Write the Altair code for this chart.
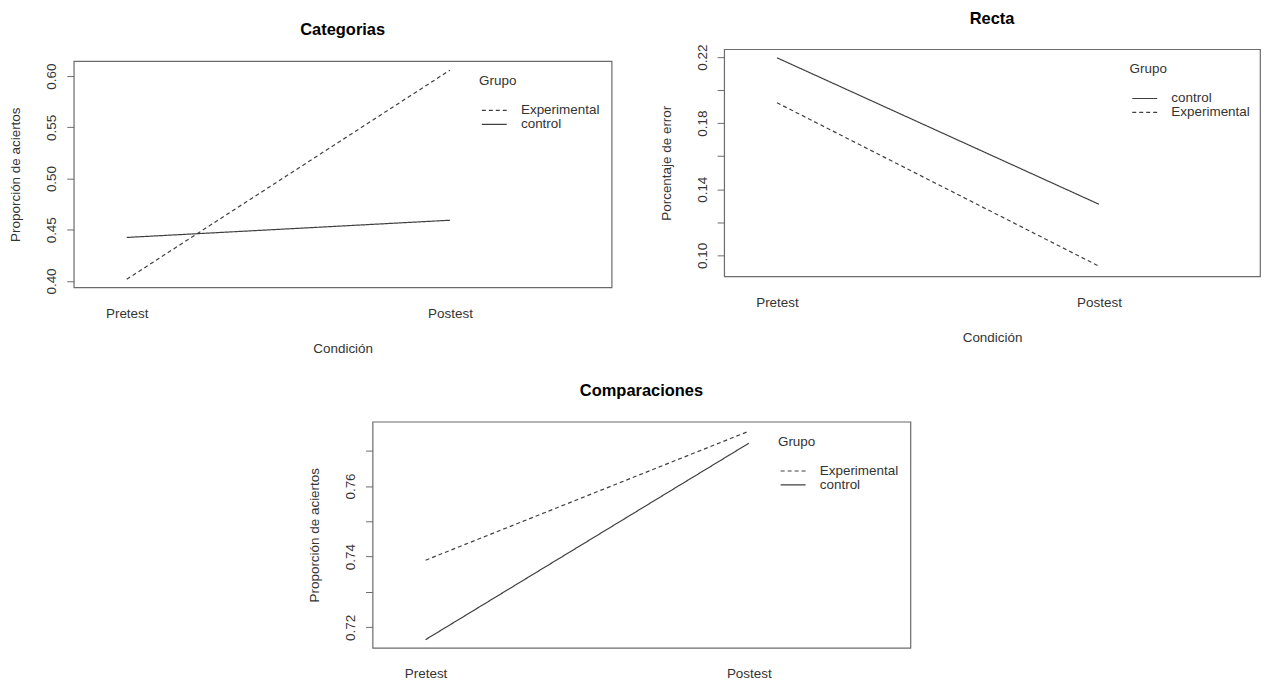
import altair as alt
import pandas as pd

# ---------------- data ----------------
condiciones = ["Pretest", "Postest"]

cat_experimental = [0.4017, 0.6058]
cat_control = [0.4425, 0.4593]

rec_control = [0.2196, 0.1309]
rec_experimental = [0.1924, 0.0934]

com_experimental = [0.7390, 0.7755]
com_control = [0.7165, 0.7721]

cat_yticks = [0.40, 0.45, 0.50, 0.55, 0.60]
cat_ylabels = ["0.40", "0.45", "0.50", "0.55", "0.60"]
rec_yticks = [0.10, 0.12, 0.14, 0.16, 0.18, 0.20, 0.22]
rec_ylabels = ["0.10", "0.14", "0.18", "0.22"]
com_yticks = [0.72, 0.73, 0.74, 0.75, 0.76, 0.77]
com_ylabels = ["0.72", "0.74", "0.76"]

FONT = "Liberation Sans"
TXT = "#333333"
LINE = "#404040"
BOX = "#6b6b6b"
FS = 13.5


def frame(series):
    rows = []
    for grupo, vals in series:
        for c, v in zip(condiciones, vals):
            rows.append({"cond": c, "Grupo": grupo, "valor": v})
    return pd.DataFrame(rows)


def panel(df, title, ytitle, ydomain, yticks, ylabels, order, width, height,
          title_offset, xtitle=True):
    cond_list = "[" + ",".join("'%s'" % c for c in condiciones) + "]"
    lab_list = "[" + ",".join("'%s'" % l for l in ylabels) + "]"
    xaxis_kwargs = dict(
        values=[1, 2],
        labelExpr="datum.value == 1 ? '%s' : '%s'" % (condiciones[0], condiciones[1]),
        ticks=False, domain=False, grid=False,
        labelPadding=19, labelFontSize=FS, labelFont=FONT, labelColor=TXT,
        titleFontSize=FS, titleFont=FONT, titleColor=TXT, titleFontWeight="normal",
        titlePadding=22,
    )
    if xtitle:
        xaxis_kwargs["title"] = "Condición"
    else:
        xaxis_kwargs["title"] = None
    dash_range = [[4, 3] if g == "Experimental" else [1, 0] for g in order]
    return (
        alt.Chart(df)
        .transform_calculate(xpos="indexof(%s, datum.cond) + 1" % cond_list)
        .mark_line(color=LINE, strokeWidth=1.2)
        .encode(
            x=alt.X("xpos:Q",
                    scale=alt.Scale(domain=[0.836, 2.5], nice=False, zero=False),
                    axis=alt.Axis(**xaxis_kwargs)),
            y=alt.Y("valor:Q",
                    scale=alt.Scale(domain=ydomain, nice=False, zero=False),
                    axis=alt.Axis(values=yticks,
                                  labelExpr="indexof(%s, format(datum.value, '.2f')) >= 0 ? format(datum.value, '.2f') : ''" % lab_list,
                                  labelAngle=-90, labelAlign="center", labelBaseline="bottom",
                                  tickSize=7, tickColor=BOX, domain=False, grid=False,
                                  labelPadding=8, labelFontSize=FS, labelFont=FONT, labelColor=TXT,
                                  title=ytitle, titleFontSize=FS, titleFont=FONT, titleColor=TXT,
                                  titleFontWeight="normal", titlePadding=22)),
            strokeDash=alt.StrokeDash(
                "Grupo:N",
                scale=alt.Scale(domain=order, range=dash_range),
                legend=alt.Legend(orient="none", legendX=407, legendY=13, title="Grupo",
                                  titleFontWeight="normal", titleFontSize=FS, titleFont=FONT,
                                  titleColor=TXT, labelFontSize=FS, labelFont=FONT, labelColor=TXT,
                                  symbolType="M-0.68,0H3.32", symbolSize=156,
                                  symbolStrokeWidth=1.2, symbolStrokeColor=LINE,
                                  labelOffset=28, rowPadding=-2.5,
                                  titlePadding=16, padding=0),
            ),
            detail="Grupo:N",
        )
        .properties(
            width=width, height=height,
            title=alt.TitleParams(title, fontSize=16.5, fontWeight="bold", font=FONT,
                                  color="black", anchor="middle", frame="group",
                                  offset=title_offset),
            view=alt.ViewBackground(stroke=BOX, strokeWidth=1.2, fill="white"),
        )
    )


def spacer(w, h):
    return (
        alt.Chart(pd.DataFrame({"v": [0]}))
        .mark_point(opacity=0)
        .properties(width=w, height=h, view=alt.ViewBackground(stroke="transparent"))
    )


def indep(c):
    return (c.resolve_scale(strokeDash="independent")
             .resolve_legend(strokeDash="independent"))


p1 = panel(frame([("Experimental", cat_experimental), ("control", cat_control)]),
           "Categorias", "Proporción de aciertos", [0.3939, 0.6146],
           cat_yticks, cat_ylabels, ["Experimental", "control"], 540, 227, 23)
p2 = panel(frame([("control", rec_control), ("Experimental", rec_experimental)]),
           "Recta", "Porcentaje de error", [0.0873, 0.2248],
           rec_yticks, rec_ylabels, ["control", "Experimental"], 538, 228, 17)
p3 = panel(frame([("Experimental", com_experimental), ("control", com_control)]),
           "Comparaciones", "Proporción de aciertos", [0.7142, 0.7782],
           com_yticks, com_ylabels, ["Experimental", "control"], 540, 227, 22,
           xtitle=False)

col1 = indep(alt.vconcat(spacer(1, 1), p1, spacing=11))
col2 = indep(alt.vconcat(spacer(1, 1), p2, spacing=0))
top = indep(alt.hconcat(col1, col2, spacing=46))
bottom = indep(alt.hconcat(spacer(1, 1), p3, spacing=230))

chart = (
    indep(alt.vconcat(top, bottom, spacing=26))
    .properties(padding={"left": 0, "top": -7, "right": 0, "bottom": 0})
    .configure(background="white")
    .configure_view(stroke=BOX)
)

chart.save("out.html", embed_options={"renderer": "svg", "actions": False})
